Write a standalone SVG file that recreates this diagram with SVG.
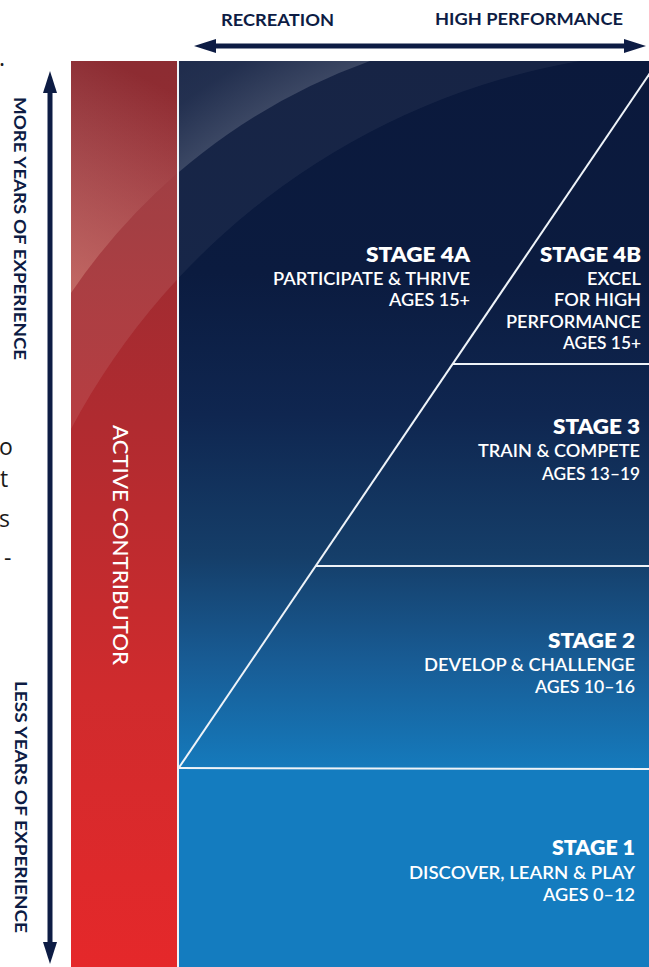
<svg xmlns="http://www.w3.org/2000/svg" width="649" height="967" viewBox="0 0 649 967">
  <defs>
    <style>
      .axis { font-family: "Lato", "Liberation Sans", sans-serif; font-weight: 700; fill: #0d1c44; font-size: 17px; }
      .head { font-family: "Lato", "Liberation Sans", sans-serif; font-weight: 800; fill: #ffffff; font-size: 21px; text-anchor: end; }
      .sub { font-family: "Lato", "Liberation Sans", sans-serif; font-weight: 600; fill: #ffffff; font-size: 16.5px; text-anchor: end; }
      .bar { font-family: "Lato", "Liberation Sans", sans-serif; font-weight: 500; fill: #ffffff; font-size: 21px; }
      .stray { font-family: "Open Sans", "Liberation Sans", sans-serif; fill: #1a1a1a; font-size: 23px; }
      .divider { stroke: #eef3f8; stroke-width: 2; fill: none; }
      .arrow { stroke: #0d1c44; stroke-width: 5; fill: none; marker-start: url(#head); marker-end: url(#head); }
      .stage { fill: url(#gBlue); }
    </style>
    <marker id="head" markerUnits="userSpaceOnUse" markerWidth="22" markerHeight="14" refX="0" refY="7" orient="auto-start-reverse" viewBox="0 0 22 14">
      <path d="M0,0 L22,7 L0,14 Z" fill="#0d1c44"/>
    </marker>
    <linearGradient id="gBlue" gradientUnits="userSpaceOnUse" x1="0" y1="61" x2="0" y2="768">
      <stop offset="0" stop-color="#0b193c"/>
      <stop offset="0.3" stop-color="#0b1b3f"/>
      <stop offset="0.5" stop-color="#0f2650"/>
      <stop offset="0.7" stop-color="#153e69"/>
      <stop offset="0.85" stop-color="#185c95"/>
      <stop offset="1" stop-color="#157abc"/>
    </linearGradient>
    <linearGradient id="gRed" gradientUnits="userSpaceOnUse" x1="0" y1="61" x2="0" y2="967">
      <stop offset="0" stop-color="#8c2c32"/>
      <stop offset="0.4" stop-color="#b02b30"/>
      <stop offset="0.7" stop-color="#d02b2d"/>
      <stop offset="1" stop-color="#e5282a"/>
    </linearGradient>
    <radialGradient id="gSheenBlue" gradientUnits="userSpaceOnUse" cx="576" cy="635" r="770">
      <stop offset="0.79" stop-color="#ffffff" stop-opacity="0.2"/>
      <stop offset="0.86" stop-color="#ffffff" stop-opacity="0.1"/>
      <stop offset="1" stop-color="#ffffff" stop-opacity="0.05"/>
    </radialGradient>
    <linearGradient id="gSheenRed" gradientUnits="userSpaceOnUse" x1="170" y1="90" x2="71" y2="290">
      <stop offset="0" stop-color="#ffffff" stop-opacity="0.0"/>
      <stop offset="1" stop-color="#ffe0c8" stop-opacity="0.33"/>
    </linearGradient>
    <clipPath id="clipRed"><rect x="71" y="61" width="106" height="906"/></clipPath>
    <clipPath id="clipBlue"><rect x="179" y="61" width="470" height="906"/></clipPath>
  </defs>

  <rect width="649" height="967" fill="#ffffff"/>

  <!-- clipped fragments of neighbouring text at the left edge -->
  <g id="edge-fragments">
    <text class="stray" x="-1" y="66">.</text>
    <text class="stray" x="-1" y="455">o</text>
    <text class="stray" x="0" y="487">t</text>
    <text class="stray" x="-1" y="527">s</text>
    <text class="stray" x="4" y="566">-</text>
  </g>

  <!-- red column -->
  <g id="active-contributor">
    <rect x="71" y="61" width="106" height="906" fill="url(#gRed)"/>
    <g clip-path="url(#clipRed)">
      <path d="M71,61 L370,61 A610,610 0 0 0 71,293 Z" fill="url(#gSheenRed)"/>
      <path d="M370,61 L580,61 A713,713 0 0 0 71,429 L71,293 A610,610 0 0 1 370,61 Z" fill="#ffffff" fill-opacity="0.09"/>
    </g>
    <text class="bar" transform="translate(113,425) rotate(90)" textLength="240" lengthAdjust="spacingAndGlyphs">ACTIVE CONTRIBUTOR</text>
  </g>

  <!-- stage regions -->
  <g id="stage-1">
    <rect x="179" y="768" width="470" height="199" fill="#147cbf"/>
  </g>
  <g id="stage-2">
    <polygon class="stage" points="179,768 316,566 649,566 649,768"/>
  </g>
  <g id="stage-3">
    <polygon class="stage" points="316,566 453,364 649,364 649,566"/>
  </g>
  <g id="stage-4b">
    <polygon class="stage" points="453,364 649,75 649,364"/>
  </g>
  <g id="stage-4a">
    <polygon class="stage" points="179,61 649,61 649,75 453,364 316,566 179,768"/>
  </g>

  <!-- sheen over the dark area -->
  <g id="sheen" clip-path="url(#clipBlue)">
    <path d="M71,61 L370,61 A610,610 0 0 0 71,293 Z" fill="url(#gSheenBlue)"/>
    <path d="M370,61 L580,61 A713,713 0 0 0 71,429 L71,293 A610,610 0 0 1 370,61 Z" fill="#ffffff" fill-opacity="0.05"/>
  </g>

  <!-- boundaries -->
  <g id="dividers">
    <line class="divider" x1="178" y1="61" x2="178" y2="967" stroke-width="1.6"/>
    <line class="divider" x1="178" y1="769" x2="652" y2="70"/>
    <line class="divider" x1="453" y1="364" x2="649" y2="364"/>
    <line class="divider" x1="316" y1="566" x2="649" y2="566"/>
    <line class="divider" x1="178" y1="768" x2="649" y2="769"/>
  </g>

  <!-- stage labels -->
  <g id="label-4a">
    <text class="head" x="470" y="262" textLength="104" lengthAdjust="spacingAndGlyphs">STAGE 4A</text>
    <text class="sub" x="470" y="285" textLength="197" lengthAdjust="spacingAndGlyphs">PARTICIPATE &amp; THRIVE</text>
    <text class="sub" x="470" y="306" textLength="81" lengthAdjust="spacingAndGlyphs">AGES 15+</text>
  </g>
  <g id="label-4b">
    <text class="head" x="641" y="262" textLength="101" lengthAdjust="spacingAndGlyphs">STAGE 4B</text>
    <text class="sub" x="641" y="285" textLength="54" lengthAdjust="spacingAndGlyphs">EXCEL</text>
    <text class="sub" x="641" y="306" textLength="87" lengthAdjust="spacingAndGlyphs">FOR HIGH</text>
    <text class="sub" x="641" y="328" textLength="135" lengthAdjust="spacingAndGlyphs">PERFORMANCE</text>
    <text class="sub" x="641" y="349" textLength="78" lengthAdjust="spacingAndGlyphs">AGES 15+</text>
  </g>
  <g id="label-3">
    <text class="head" x="640" y="434" textLength="87" lengthAdjust="spacingAndGlyphs">STAGE 3</text>
    <text class="sub" x="640" y="457" textLength="162" lengthAdjust="spacingAndGlyphs">TRAIN &amp; COMPETE</text>
    <text class="sub" x="640" y="480" textLength="98" lengthAdjust="spacingAndGlyphs">AGES 13–19</text>
  </g>
  <g id="label-2">
    <text class="head" x="635" y="648" textLength="87" lengthAdjust="spacingAndGlyphs">STAGE 2</text>
    <text class="sub" x="635" y="671" textLength="211" lengthAdjust="spacingAndGlyphs">DEVELOP &amp; CHALLENGE</text>
    <text class="sub" x="635" y="693" textLength="100" lengthAdjust="spacingAndGlyphs">AGES 10–16</text>
  </g>
  <g id="label-1">
    <text class="head" x="635" y="855" textLength="83" lengthAdjust="spacingAndGlyphs">STAGE 1</text>
    <text class="sub" x="635" y="879" textLength="226" lengthAdjust="spacingAndGlyphs">DISCOVER, LEARN &amp; PLAY</text>
    <text class="sub" x="635" y="901" textLength="92" lengthAdjust="spacingAndGlyphs">AGES 0–12</text>
  </g>

  <!-- axis labels -->
  <g id="axis-labels">
    <text class="axis" x="221" y="26" textLength="113" lengthAdjust="spacingAndGlyphs">RECREATION</text>
    <text class="axis" x="435" y="25" textLength="188" lengthAdjust="spacingAndGlyphs">HIGH PERFORMANCE</text>
    <text class="axis" transform="translate(14,97) rotate(90)" textLength="263" lengthAdjust="spacingAndGlyphs">MORE YEARS OF EXPERIENCE</text>
    <text class="axis" transform="translate(15,681) rotate(90)" textLength="252" lengthAdjust="spacingAndGlyphs">LESS YEARS OF EXPERIENCE</text>
  </g>

  <!-- double-headed axis arrows -->
  <g id="connectors">
    <line class="arrow" x1="216" y1="46" x2="624" y2="46"/>
    <line class="arrow" x1="50" y1="93" x2="50" y2="942"/>
  </g>
</svg>
